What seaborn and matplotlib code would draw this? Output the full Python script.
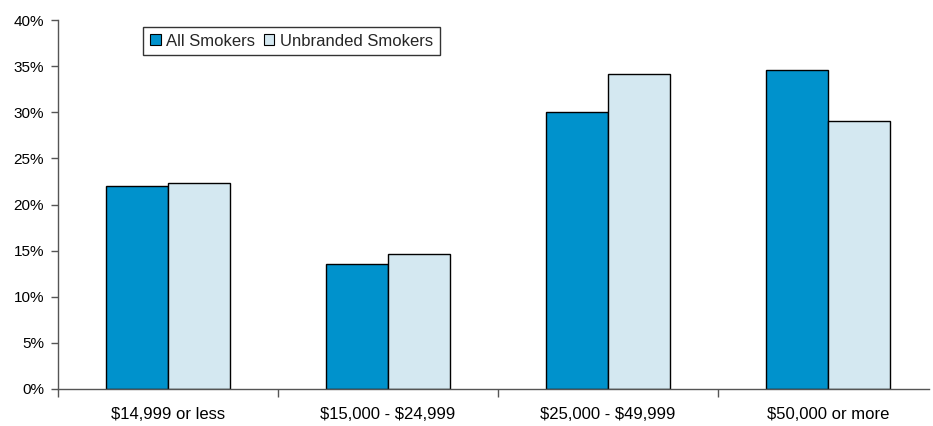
import matplotlib
matplotlib.use("Agg")
import matplotlib.pyplot as plt
from matplotlib.patches import Patch
import seaborn as sns
import pandas as pd

# Share of smokers by household income bracket
categories = ["$14,999 or less", "$15,000 - $24,999", "$25,000 - $49,999", "$50,000 or more"]
all_smokers = [22.0, 13.5, 30.0, 34.6]
unbranded_smokers = [22.3, 14.6, 34.1, 29.1]
series_names = ["All Smokers", "Unbranded Smokers"]
y_ticks = [0, 5, 10, 15, 20, 25, 30, 35, 40]
colors = ["#0092CC", "#D4E8F1"]

df = pd.DataFrame({
    "income": categories * 2,
    "share": all_smokers + unbranded_smokers,
    "group": [series_names[0]] * len(categories) + [series_names[1]] * len(categories),
})

sns.set_theme(style="white")
plt.rcParams["font.family"] = ["Liberation Sans", "DejaVu Sans"]
plt.rcParams["font.size"] = 11
plt.rcParams["text.parse_math"] = False  # dollar signs are literal

fig = plt.figure(figsize=(9.33, 4.26), dpi=100)
ax = fig.add_axes([58 / 933, 1 - 389 / 426, (929 - 58) / 933, (389 - 20) / 426])

sns.barplot(data=df, x="income", y="share", hue="group", order=categories,
            hue_order=series_names, palette=colors, width=0.564, gap=0,
            edgecolor="black", linewidth=1.0, saturation=1, legend=False, ax=ax)

ax.set_xlim(-0.5, 3.46)
ax.set_ylim(0, 40)
ax.set_yticks(y_ticks)
ax.set_yticklabels([f"{t}%" for t in y_ticks], fontsize=11, color="black")
ax.set_xticks(range(len(categories)))
ax.set_xticklabels(categories, fontsize=12, color="black")
ax.set_xticks([-0.5, 0.5, 1.5, 2.5], minor=True)
ax.set_xlabel("")
ax.set_ylabel("")

for side in ["top", "right"]:
    ax.spines[side].set_visible(False)
for side in ["left", "bottom"]:
    ax.spines[side].set_color("#555555")
    ax.spines[side].set_linewidth(1.0)

ax.tick_params(axis="y", which="major", left=True, length=5, width=1, color="#555555", pad=5, direction="out")
ax.tick_params(axis="x", which="major", bottom=False, length=0, pad=13)
ax.tick_params(axis="x", which="minor", bottom=True, length=6, width=1, color="#555555", direction="out")

handles = [Patch(facecolor=c, edgecolor="black", linewidth=0.8) for c in colors]
leg = ax.legend(handles, series_names, loc="upper left", ncol=2,
                bbox_to_anchor=(143 / 933, 1 - 27 / 426), bbox_transform=fig.transFigure,
                frameon=True, fancybox=False, fontsize=12, handlelength=0.65, handleheight=0.65,
                handletextpad=0.35, columnspacing=0.5, borderpad=0.4, borderaxespad=0)
leg.get_frame().set_edgecolor("black")
leg.get_frame().set_linewidth(1.0)

fig.savefig("out.png", dpi=100)
